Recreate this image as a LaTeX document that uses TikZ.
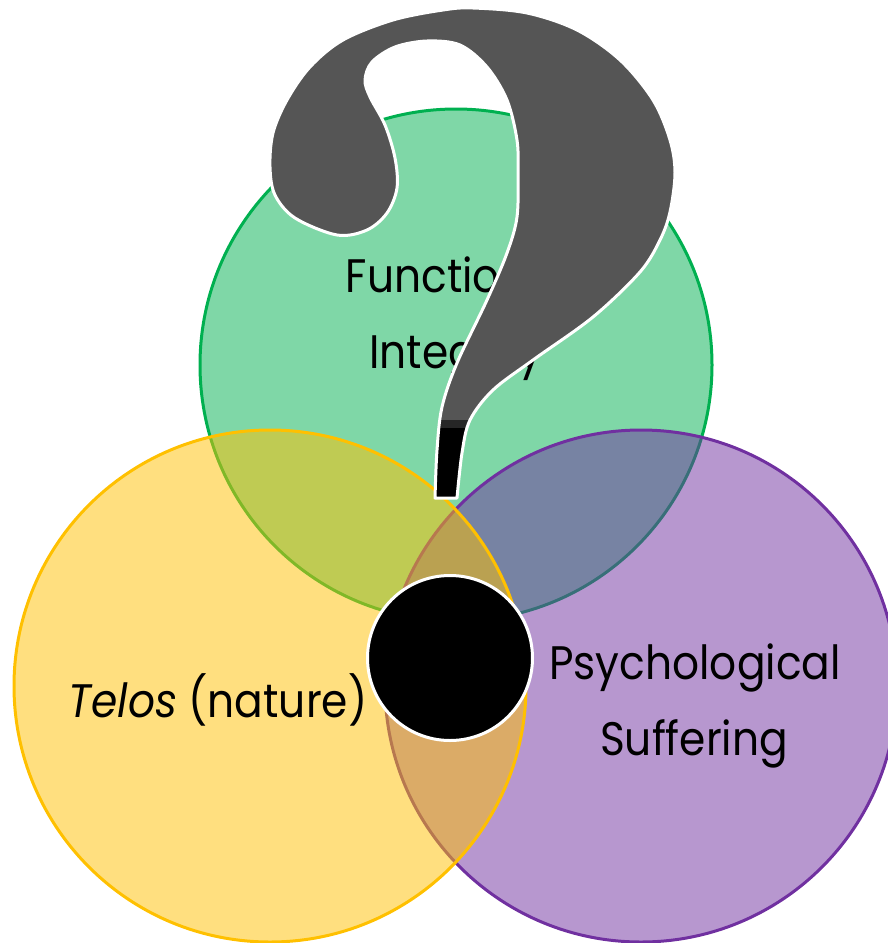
\documentclass[tikz,border=0pt]{standalone}
\usepackage{fontspec}
\setmainfont{Poppins}[FakeStretch=0.9]
\definecolor{vgreen}{HTML}{00B050}
\definecolor{vyellow}{HTML}{FFC000}
\definecolor{vpurple}{HTML}{7030A0}
\definecolor{qgray}{HTML}{555555}
\newcommand{\qmarkpath}{plot[smooth, tension=0.55] coordinates {
  (457,498) (462,453) (470,420) (493,390) (533,360) (593,317) (640,272)
  (660,240) (670,212) (675,173) (670,140) (653,100) (620,60) (577,30)
  (527,13) (473,8) (443,10) (393,20) (343,40) (310,67) (287,100)
  (273,133) (270,167) (275,195) (295,218) (337,235) (367,230) (387,213)
  (397,188) (395,158) (385,125) (370,97) (365,80) (372,62) (395,47)
  (427,41) (460,45) (487,67) (507,100) (517,140) (518,173) (517,217)
  (507,253) (487,300) (457,363) (442,407) (437,450) (435,498)} -- cycle}
\begin{document}
\begin{tikzpicture}[x=1pt, y=-1pt,
  venn/.style={circle, minimum size=512pt, inner sep=0pt, line width=3pt, fill opacity=0.5},
  vlabel/.style={font=\fontsize{47}{54}\selectfont, anchor=base, inner sep=0pt}]
\useasboundingbox (0,0) rectangle (888,943);
\clip (0,0) rectangle (888,943);

% the three sets
\node[venn, draw=vgreen, fill=vgreen] (integrity) at (456,365) {};
\node[venn, draw=vpurple, fill=vpurple] (suffering) at (641,686) {};
\node[venn, draw=vyellow, fill=vyellow] (telos) at (270,686) {};

\node[vlabel] (funct) at (456,292) {Functional};
\node[vlabel] (integ) at (456,368) {Integrity};
\node[vlabel] (telostxt) at (218,717) {\textit{Telos} (nature)};
\node[vlabel] (psych) at (695,679) {Psychological};
\node[vlabel] (suff) at (694,755) {Suffering};

% question mark
\fill[qgray] \qmarkpath;
\begin{scope}
  \clip \qmarkpath;
  \fill[black!85] (400,420) rectangle (500,428);
  \fill[black] (400,428) rectangle (500,510);
\end{scope}
\draw[white, line width=3pt, line join=round] \qmarkpath;

% the dot
\node[circle, minimum size=165pt, inner sep=0pt, fill=black, draw=white, line width=3pt] (dot) at (450,658) {};
\end{tikzpicture}
\end{document}
